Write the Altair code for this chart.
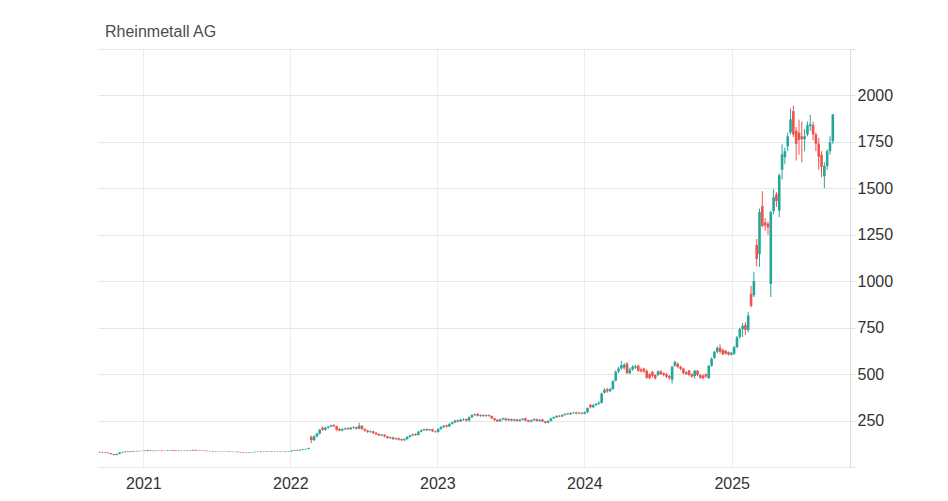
import altair as alt
import pandas as pd
import numpy as np

TITLE = "Rheinmetall AG"
FIRST_WEEK = "2020-09-15"
Y_TICKS = [0, 250, 500, 750, 1000, 1250, 1500, 1750, 2000, 2250]
YEAR_TICKS = [2021, 2022, 2023, 2024, 2025]
UP_COLOR = "#26a69a"
DOWN_COLOR = "#ef5350"

# weekly candles (open, high, low, close)
W2020 = [
    (81, 83, 77, 79), (79, 82, 76, 80), (80, 81, 75, 77),
    (77, 78, 72, 74), (74, 75, 67, 69), (69, 70, 62, 65), (65, 72, 63, 70),
    (70, 80, 69, 78), (78, 83, 76, 80), (80, 85, 78, 83), (83, 85, 79, 81),
    (81, 86, 80, 84), (84, 88, 82, 86), (86, 88, 83, 85), (85, 88, 84, 86),
    (86, 89, 85, 87),
]
W2021 = [
    (88, 90, 84, 86), (86, 92, 85, 90), (90, 92, 86, 88), (88, 89, 84, 86),
    (86, 89, 84, 87), (87, 90, 86, 88), (88, 89, 84, 86), (86, 88, 84, 87),
    (87, 90, 86, 89), (89, 91, 86, 88), (90, 93, 86, 87), (88, 90, 85, 86),
    (86, 89, 85, 88), (88, 90, 85, 87), (87, 90, 86, 88), (88, 89, 85, 86),
    (86, 89, 85, 88), (88, 93, 87, 91), (92, 94, 88, 89), (90, 91, 87, 88),
    (88, 90, 87, 89), (89, 90, 86, 87), (87, 88, 84, 85), (85, 87, 84, 86),
    (86, 87, 83, 84), (85, 86, 83, 84), (84, 86, 83, 85), (85, 86, 83, 84),
    (84, 85, 82, 83), (83, 85, 82, 84), (84, 85, 81, 82), (82, 83, 80, 81),
    (81, 83, 80, 82), (82, 83, 79, 80), (80, 81, 77, 78), (78, 79, 75, 76),
    (76, 78, 74, 77), (77, 80, 76, 79), (79, 81, 78, 80), (80, 83, 79, 82),
    (82, 83, 80, 81), (81, 84, 80, 83), (83, 84, 81, 82), (82, 85, 81, 84),
    (84, 86, 82, 83), (83, 84, 80, 81), (81, 83, 80, 82), (82, 83, 79, 81),
    (81, 83, 80, 82), (82, 83, 80, 81), (81, 84, 80, 83), (83, 85, 82, 84),
]
W2022 = [
    (84, 90, 83, 88), (88, 93, 86, 91), (92, 94, 87, 89), (89, 95, 87, 92),
    (92, 97, 90, 95), (95, 99, 93, 97), (97, 104, 95, 102), (162, 170, 128, 145),
    (145, 170, 140, 165), (165, 185, 160, 180), (180, 205, 175, 200), (212, 218, 195, 200),
    (200, 216, 196, 212), (212, 222, 206, 218), (218, 228, 214, 224), (226, 230, 214, 220),
    (220, 222, 195, 200), (205, 210, 192, 196), (196, 208, 192, 204), (204, 212, 198, 208),
    (210, 214, 200, 204), (204, 216, 200, 212), (212, 220, 206, 215), (215, 218, 202, 206),
    (206, 238, 204, 222), (222, 225, 200, 205), (205, 208, 190, 195), (196, 200, 184, 188),
    (188, 196, 184, 192), (192, 195, 178, 182), (184, 188, 172, 176), (178, 181, 166, 170),
    (170, 178, 166, 174), (174, 176, 160, 164), (165, 168, 152, 156), (156, 164, 150, 160),
    (160, 163, 146, 150), (150, 158, 145, 154), (155, 158, 142, 147), (150, 153, 140, 144),
    (144, 154, 140, 150), (150, 166, 147, 162), (162, 174, 158, 170), (170, 180, 166, 176),
    (178, 181, 168, 172), (172, 194, 170, 190), (190, 202, 186, 198), (198, 207, 194, 203),
    (204, 208, 194, 198), (198, 206, 194, 203), (203, 206, 188, 192), (192, 195, 184, 188),
]
W2023 = [
    (188, 208, 185, 205), (205, 220, 200, 215), (215, 226, 210, 222), (225, 228, 212, 218),
    (218, 236, 215, 232), (232, 244, 228, 240), (240, 254, 236, 250), (252, 256, 240, 245),
    (245, 260, 242, 255), (255, 262, 248, 258), (258, 262, 244, 250), (250, 272, 246, 268),
    (268, 284, 264, 280), (280, 288, 274, 284), (286, 290, 272, 276), (276, 284, 270, 280),
    (280, 284, 270, 274), (274, 282, 270, 279), (280, 283, 270, 275), (275, 277, 258, 262),
    (262, 265, 248, 252), (255, 258, 242, 246), (246, 260, 243, 256), (256, 266, 252, 262),
    (262, 265, 248, 252), (252, 262, 248, 258), (258, 261, 246, 250), (250, 260, 246, 256),
    (256, 259, 244, 248), (248, 258, 244, 255), (255, 264, 251, 260), (262, 266, 246, 250),
    (252, 255, 240, 244), (244, 256, 240, 252), (252, 262, 248, 258), (258, 261, 244, 248),
    (248, 258, 244, 254), (256, 259, 241, 245), (246, 249, 234, 238), (238, 252, 235, 248),
    (248, 265, 245, 262), (262, 272, 258, 268), (268, 278, 264, 275), (276, 280, 268, 272),
    (272, 284, 268, 280), (280, 289, 276, 286), (288, 292, 280, 284), (284, 294, 280, 290),
    (290, 297, 286, 293), (294, 297, 284, 288), (288, 296, 284, 292), (292, 295, 283, 287),
]
W2024 = [
    (287, 300, 283, 295), (295, 320, 290, 318), (334, 340, 315, 322), (322, 338, 318, 334),
    (334, 345, 328, 340), (340, 355, 335, 345), (345, 400, 342, 395), (400, 425, 395, 415),
    (418, 425, 400, 408), (408, 428, 402, 420), (420, 468, 415, 462), (465, 520, 460, 513),
    (515, 540, 505, 530), (530, 572, 525, 548), (535, 560, 525, 550), (556, 565, 500, 505),
    (505, 535, 500, 525), (525, 548, 518, 540), (535, 550, 528, 542), (545, 550, 512, 518),
    (525, 535, 508, 515), (530, 535, 505, 515), (518, 525, 475, 480), (500, 505, 472, 478),
    (512, 518, 482, 490), (495, 500, 470, 478), (495, 520, 490, 515), (515, 522, 495, 500),
    (505, 510, 488, 495), (500, 505, 478, 486), (490, 495, 470, 480), (470, 545, 449, 540),
    (545, 572, 540, 566), (556, 562, 532, 538), (540, 545, 520, 528), (530, 535, 500, 505),
    (510, 515, 495, 500), (520, 522, 488, 495), (500, 505, 480, 486), (490, 522, 476, 518),
    (518, 522, 488, 495), (495, 500, 474, 480), (492, 500, 472, 478), (500, 503, 480, 487),
    (478, 548, 474, 545), (545, 590, 540, 583), (588, 625, 582, 620), (620, 650, 612, 641),
    (643, 660, 612, 620), (630, 636, 604, 606), (625, 630, 605, 610), (618, 622, 600, 605),
    (605, 620, 600, 615),
]
W2025 = [
    (610, 652, 602, 645), (645, 705, 640, 698), (700, 750, 690, 742), (742, 775, 700, 760),
    (765, 780, 710, 738), (738, 835, 725, 815), (932, 976, 860, 867), (925, 1050, 915, 1000),
    (1195, 1227, 1080, 1120), (1147, 1390, 1077, 1372), (1404, 1484, 1290, 1297), (1317, 1340, 1270, 1300),
    (1310, 1320, 1250, 1290), (985, 1380, 915, 1372), (1377, 1495, 1360, 1452), (1468, 1480, 1400, 1431),
    (1380, 1580, 1344, 1570), (1600, 1737, 1548, 1683), (1667, 1720, 1630, 1700), (1726, 1800, 1700, 1780),
    (1801, 1930, 1790, 1871), (1915, 1945, 1775, 1790), (1810, 1830, 1650, 1740), (1800, 1870, 1680, 1760),
    (1780, 1860, 1640, 1765), (1765, 1820, 1700, 1780), (1790, 1860, 1780, 1839), (1835, 1895, 1810, 1845),
    (1840, 1860, 1760, 1790), (1790, 1800, 1700, 1740), (1740, 1770, 1600, 1670), (1680, 1700, 1560, 1615),
    (1565, 1640, 1500, 1620), (1620, 1710, 1600, 1700), (1700, 1780, 1680, 1747), (1753, 1900, 1740, 1898),
]

rows = W2020 + W2021 + W2022 + W2023 + W2024 + W2025
df = pd.DataFrame(rows, columns=["open", "high", "low", "close"])
df["date"] = pd.date_range(FIRST_WEEK, periods=len(rows), freq="7D").strftime("%Y-%m-%dT00:00:00")
df["dir"] = np.where(df["close"] >= df["open"], "up", "down")

FONT = "Liberation Sans"

x_enc = alt.X(
    "date:T",
    scale=alt.Scale(domain=[alt.DateTime(year=2020, month=9, date=10, hours=12),
                            alt.DateTime(year=2025, month=10, date=21, hours=16)],
                    nice=False, padding=0),
    axis=alt.Axis(
        values=[alt.DateTime(year=yy, month=1, date=1) for yy in YEAR_TICKS],
        format="%Y", title=None, grid=True, gridColor="#e8eef1", gridWidth=1,
        domain=False, ticks=False, labelFontSize=16, labelFont=FONT,
        labelColor="#333333", labelPadding=8,
    ),
)

y_scale = alt.Scale(domain=[0, 2250], nice=False, zero=False, padding=0)
y_axis = alt.Axis(
    orient="right", values=Y_TICKS, format="d", title=None,
    labelExpr="datum.value == 0 || datum.value == 2250 ? '' : datum.label",
    grid=True, gridColor="#e6e6e6", gridWidth=1,
    domain=True, domainColor="#dddddd", ticks=True, tickSize=5,
    tickColor="#e0e0e0", labelFontSize=16, labelFont=FONT,
    labelColor="#333333", labelPadding=2,
)

color = alt.Color("dir:N", scale=alt.Scale(domain=["up", "down"],
                                           range=[UP_COLOR, DOWN_COLOR]), legend=None)

base = alt.Chart(df).encode(x=x_enc, color=color)

wicks = base.mark_rule(strokeWidth=1).encode(
    y=alt.Y("low:Q", scale=y_scale, axis=y_axis), y2="high:Q"
)
bodies = base.mark_bar(size=2.6).encode(
    y=alt.Y("open:Q", scale=y_scale, axis=y_axis), y2="close:Q"
)

chart = alt.layer(wicks, bodies).properties(
    width=752, height=418,
    title=alt.TitleParams(TITLE, anchor="start", frame="group", fontSize=16,
                          font=FONT, fontWeight="normal", color="#4d4d4d",
                          dx=7, offset=9),
    padding={"left": 90, "top": 41, "right": 90, "bottom": 34},
    autosize="none",
).configure_view(stroke=None)

chart.save("out.html", embed_options={"renderer": "svg", "actions": False})
